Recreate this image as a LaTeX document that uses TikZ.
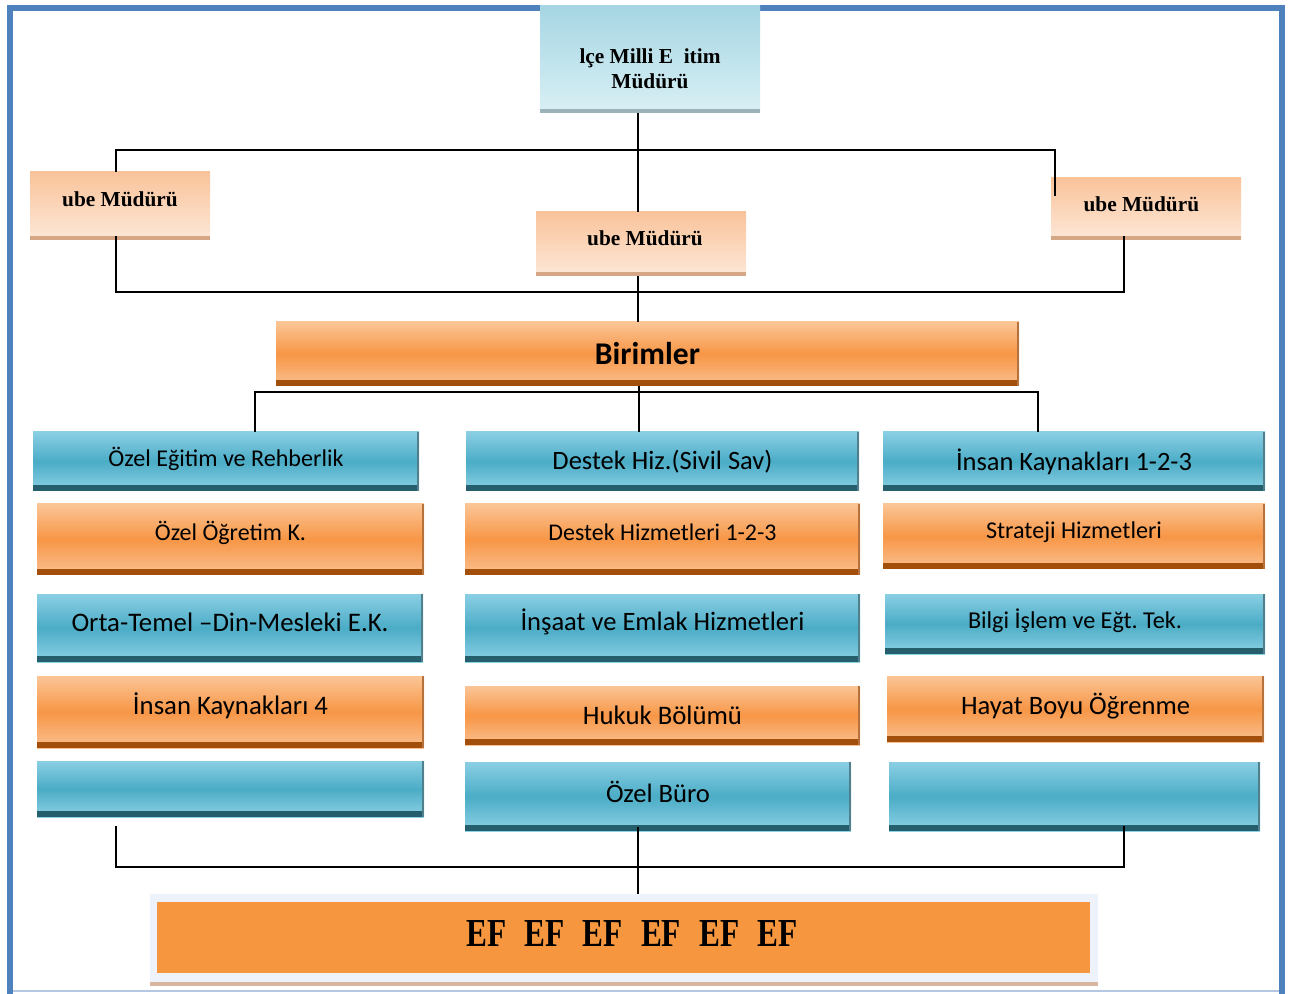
\documentclass[tikz,border=0pt]{standalone}
\usepackage{fontspec}
\setmainfont{Liberation Serif}
\newfontfamily\calfont{Carlito}
\usetikzlibrary{fit}
\frenchspacing
\definecolor{frameblue}{HTML}{4F81BD}
\definecolor{framelight}{HTML}{B4C8E4}
\definecolor{btop}{HTML}{8ACFE4}
\definecolor{bmid}{HTML}{4BACC6}
\definecolor{bbot}{HTML}{8CD1E4}
\definecolor{bdark}{HTML}{255F6E}
\definecolor{otop}{HTML}{FBC596}
\definecolor{omid}{HTML}{F79646}
\definecolor{obot}{HTML}{FAC090}
\definecolor{odark}{HTML}{A24F0C}
\definecolor{stop}{HTML}{F9C39A}
\definecolor{sbot}{HTML}{FDE8D8}
\definecolor{sdark}{HTML}{D6A786}
\definecolor{ttop}{HTML}{A6D6E3}
\definecolor{tbot}{HTML}{D9F0F5}
\definecolor{tdark}{HTML}{9DB3BB}
\definecolor{efout}{HTML}{EEF3FB}
\definecolor{efin}{HTML}{F6963F}
\definecolor{efshadow}{HTML}{D9B5A0}
\newcommand{\ct}[2]{\raisebox{\dimexpr(\depth-\height)/2+#1pt*3/4\relax}[0pt][0pt]{#2}}
\newcommand{\tw}[2]{\resizebox{\dimexpr#1pt*3/4\relax}{!}{\calfont #2}}
\tikzset{
  box/.style={rectangle, inner sep=0pt, outer sep=0pt},
  bluebox/.style={box, top color=btop, bottom color=bbot, middle color=bmid,
    path picture={
      \fill[bdark] (path picture bounding box.south west) rectangle ([yshift=4.5pt]path picture bounding box.south east);
      \fill[bdark!80] ([xshift=-1.5pt]path picture bounding box.north east) rectangle (path picture bounding box.south east);}},
  orangebox/.style={box, top color=otop, bottom color=obot, middle color=omid,
    path picture={
      \fill[odark] (path picture bounding box.south west) rectangle ([yshift=4.5pt]path picture bounding box.south east);
      \fill[odark!80] ([xshift=-1.5pt]path picture bounding box.north east) rectangle (path picture bounding box.south east);}},
  subebox/.style={box, top color=stop, bottom color=sbot,
    font=\fontsize{16}{18.75}\selectfont\bfseries,
    path picture={
      \fill[sdark] (path picture bounding box.south west) rectangle ([yshift=3pt]path picture bounding box.south east);}},
  topbox/.style={box, top color=ttop, bottom color=tbot,
    font=\fontsize{16}{18.75}\selectfont\bfseries,
    path picture={
      \fill[tdark] (path picture bounding box.south west) rectangle ([yshift=3pt]path picture bounding box.south east);}},
  efbox/.style={box, fill=efout,
    path picture={
      \fill[efshadow] (path picture bounding box.south west) rectangle ([yshift=3pt]path picture bounding box.south east);
      \fill[efin] ([xshift=5.25pt,yshift=-6pt]path picture bounding box.north west) rectangle ([xshift=-6pt,yshift=9.75pt]path picture bounding box.south east);}},
  conn/.style={draw=black, line width=1.5pt},
  thinconn/.style={draw=black, line width=1.1pt},
  frameline/.style={draw=frameblue, line width=4.5pt},
}
\begin{document}
\begin{tikzpicture}[x=0.75pt, y=-0.75pt]
\useasboundingbox (0,0) rectangle (1296,994);
% frame
\draw[framelight, line width=1.5pt] (10,991) -- (1282,991);
\draw[frameline] (9.5,994) -- (9.5,8) -- (1282,8) -- (1282,994);

% top level
\node[topbox, fit={(540,6) (760,113)}] (top) {\ct{-11.5}{\begin{tabular}{@{}c@{}}lçe Milli E\ \ itim\\Müdürü\end{tabular}}};
\node[subebox, fit={(30,172) (210,240)}] (s1) {\ct{7}{ube Müdürü}};
\node[subebox, fit={(536,212) (746,276)}] (s2) {\ct{6}{\hspace*{6pt}ube Müdürü}};
\node[subebox, fit={(1051,178) (1241,240)}] (s3) {\ct{5}{ube Müdürü\hspace*{7pt}}};
\node[orangebox, fit={(276,322) (1019,386)}] (bir) {\ct{0}{\tw{105}{\bfseries Birimler}}};

% column 1
\node[bluebox, fit={(33,432) (419,491)}] (c1a) {\ct{2.5}{\tw{235}{Özel Eğitim ve Rehberlik}}};
\node[orangebox, fit={(37,504) (424,575)}] (c1b) {\ct{7}{\tw{151}{Özel Öğretim K.}}};
\node[bluebox, fit={(37,594) (423,662)}] (c1c) {\ct{6}{\tw{317}{Orta-Temel –Din-Mesleki E.K.}}};
\node[orangebox, fit={(37,676) (424,748)}] (c1d) {\ct{6}{\tw{195}{İnsan Kaynakları 4}}};
\node[bluebox, fit={(37,761) (424,817)}] (c1e) {};
% column 2
\node[bluebox, fit={(466,432) (859,491)}] (c2a) {\ct{0}{\tw{220}{Destek Hiz.(Sivil Sav)}}};
\node[orangebox, fit={(465,504) (860,575)}] (c2b) {\ct{7}{\tw{228}{Destek Hizmetleri 1-2-3}}};
\node[bluebox, fit={(465,594) (860,662)}] (c2c) {\ct{6}{\tw{284}{İnşaat ve Emlak Hizmetleri}}};
\node[orangebox, fit={(465,686) (860,745)}] (c2d) {\ct{0}{\tw{159}{Hukuk Bölümü}}};
\node[bluebox, fit={(465,762) (851,831)}] (c2e) {\ct{5}{\tw{104}{Özel Büro}}};
% column 3
\node[bluebox, fit={(883,432) (1265,491)}] (c3a) {\ct{0}{\tw{236}{İnsan Kaynakları 1-2-3}}};
\node[orangebox, fit={(883,504) (1265,569)}] (c3b) {\ct{4}{\tw{176}{Strateji Hizmetleri}}};
\node[bluebox, fit={(885,594) (1265,654)}] (c3c) {\ct{3}{\tw{214}{Bilgi İşlem ve Eğt. Tek.}}};
\node[orangebox, fit={(887,676) (1264,742)}] (c3d) {\ct{3}{\tw{229}{Hayat Boyu Öğrenme}}};
\node[bluebox, fit={(889,762) (1260,831)}] (c3e) {};

% bottom box
\node[efbox, fit={(150,894) (1098,986)}] (ef) {\ct{7}{\hspace*{12pt}\resizebox{248.25pt}{19.5pt}{\bfseries EF\hspace{0.58em}EF\hspace{0.58em}EF\hspace{0.58em}EF\hspace{0.58em}EF\hspace{0.58em}EF}}};

% junction coordinates
\coordinate (j1) at (638,150);
\coordinate (j1l) at (116,150);
\coordinate (j1r) at (1055,150);
\coordinate (j1re) at (1055,196);
\coordinate (j2) at (638,292);
\coordinate (j2l) at (116,292);
\coordinate (j2r) at (1124,292);
\coordinate (j3) at (639,392);
\coordinate (j3l) at (255,392);
\coordinate (j3r) at (1038,392);
\coordinate (j4) at (638,867);
\coordinate (j4l) at (116,867);
\coordinate (j4r) at (1124,867);
\coordinate (j4lt) at (116,826);

% connectors
\draw[conn] (top.south -| j1) -- (j1);
\draw[conn] (s1.north -| j1l) -- (j1l) -- (j1r) -- (j1re);
\draw[conn] (j1) -- (s2.north -| j1);
\draw[conn] ([yshift=3pt]s1.south -| j2l) -- (j2l) -- (j2r) -- ([yshift=3pt]s3.south -| j2r);
\draw[conn] (s2.south -| j2) -- (bir.north -| j2);
\draw[thinconn] (bir.south -| j3) -- (c2a.north -| j3);
\draw[conn] (c1a.north -| j3l) -- (j3l) -- (j3r) -- (c3a.north -| j3r);
\draw[conn] (j4lt) -- (j4l) -- (j4r) -- ([yshift=4pt]c3e.south -| j4r);
\draw[thinconn] ([yshift=3pt]c2e.south -| j4) -- (ef.north -| j4);
\end{tikzpicture}
\end{document}
